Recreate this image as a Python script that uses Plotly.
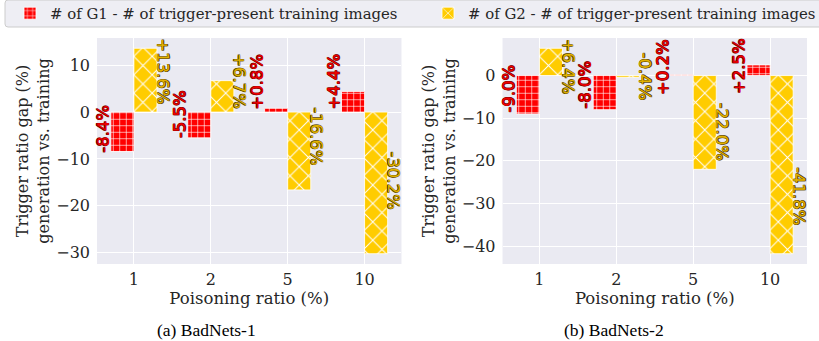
import plotly.graph_objects as go
from plotly.subplots import make_subplots

# Poisoning ratios (%) on the x axis
ratios = ["1", "2", "5", "10"]

# Trigger ratio gap (%) for each generator, per dataset
g1_badnets1 = [-8.4, -5.5, 0.8, 4.4]
g2_badnets1 = [13.6, 6.7, -16.6, -30.2]
g1_badnets2 = [-9.0, -8.0, 0.2, 2.5]
g2_badnets2 = [6.4, -0.4, -22.0, -41.8]

series_names = ["# of G1 - # of trigger-present training images",
                "# of G2 - # of trigger-present training images"]
captions = ["(a) BadNets-1", "(b) BadNets-2"]

# vertical centre (data units) of each rotated value label
label_mid_g1 = [[-3.5, -0.4, 6.5, 6.5], [-3.1, -2.2, 1.9, 2.1]]
label_mid_g2 = [[8.6, 6.5, -5.2, -14.6], [2.1, -0.2, -13.1, -28.2]]

RED = "#ff0000"
GOLD = "#ffcc00"
BG = "#eaeaf2"
TXT = "#262626"
SERIF = "DejaVu Serif"

W, H = 819, 341
ML, MR, MT, MB = 97, 12, 38, 77
plot_w = W - ML - MR
plot_h = H - MT - MB

fig = make_subplots(rows=1, cols=2, horizontal_spacing=0.1423)


def outline(c, d=0.5):
    return ", ".join(f"{sx * d}px {sy * d}px 0 {c}" for sx, sy in
                     ((1, 1), (-1, -1), (1, -1), (-1, 1)))


panels = [(g1_badnets1, g2_badnets1), (g1_badnets2, g2_badnets2)]
for col, (g1, g2) in enumerate(panels, start=1):
    fig.add_trace(go.Bar(
        x=ratios, y=g1, name=series_names[0], showlegend=(col == 1),
        legend="legend",
        marker=dict(color=RED, line=dict(color="white", width=0.8),
                    pattern=dict(shape="+", fgcolor="white", bgcolor=RED,
                                 fillmode="replace", size=6.5, solidity=0.18)),
        offsetgroup="g1",
    ), row=1, col=col)
    fig.add_trace(go.Bar(
        x=ratios, y=g2, name=series_names[1], showlegend=(col == 1),
        legend="legend2",
        marker=dict(color=GOLD, line=dict(color="white", width=0.8),
                    pattern=dict(shape="x", fgcolor="white", bgcolor=GOLD,
                                 fillmode="replace", size=13, solidity=0.15)),
        offsetgroup="g2",
    ), row=1, col=col)

    xa = "x" if col == 1 else "x2"
    ya = "y" if col == 1 else "y2"
    for i, v in enumerate(g1):
        fig.add_annotation(
            x=i - 0.3, y=label_mid_g1[col - 1][i], xref=xa, yref=ya,
            text=f"{v:+.1f}%", textangle=-90, showarrow=False,
            xanchor="right", yanchor="middle", xshift=4,
            font=dict(family="DejaVu Sans", size=16.5, color="#f00000",
                      shadow=outline("#7a0000", 0.45)),
        )
    for i, v in enumerate(g2):
        fig.add_annotation(
            x=i + 0.3, y=label_mid_g2[col - 1][i], xref=xa, yref=ya,
            text=f"{v:+.1f}%", textangle=90, showarrow=False,
            xanchor="left", yanchor="middle", xshift=-6,
            font=dict(family="DejaVu Sans", size=16.5, color="#e2b200",
                      shadow=outline("#5c4700", 0.45)),
        )

tick_font = dict(family=SERIF, size=16, color=TXT)
title_font = dict(family=SERIF, size=16.5, color=TXT)
for col in (1, 2):
    fig.update_xaxes(
        row=1, col=col, range=[-0.48, 3.48], showgrid=True, gridcolor="white",
        gridwidth=1, zeroline=False, showline=False, ticks="",
        tickfont=tick_font, ticklabelstandoff=4,
        title=dict(text="Poisoning ratio (%)", font=title_font, standoff=0),
    )
    fig.update_yaxes(
        row=1, col=col, showgrid=True, gridcolor="white", gridwidth=1,
        zeroline=True, zerolinecolor="white", zerolinewidth=1, showline=False,
        ticks="", tickfont=tick_font, ticklabelstandoff=6,
        title=dict(text="Trigger ratio gap (%)<br>generation vs. training",
                   font=dict(family=SERIF, size=16, color=TXT), standoff=2),
    )
fig.update_yaxes(row=1, col=1, range=[-32.39, 15.79], dtick=10)
fig.update_yaxes(row=1, col=2, range=[-44.21, 8.81], dtick=10)


def px_x(p):
    return (p - ML) / plot_w


def px_y(p):
    return (H - MB - p) / plot_h


# captions under each panel
for k, cx in enumerate((206, 614)):
    fig.add_annotation(
        x=px_x(cx), y=px_y(330), xref="paper", yref="paper", text=captions[k],
        showarrow=False, xanchor="center", yanchor="middle",
        font=dict(family="Liberation Serif", size=17.5, color="black"),
    )

# legend frame with rounded corners
x0, x1, y0, y1, r = 5, 832, 0, 27, 3
path = (f"M{px_x(x0 + r)},{px_y(y0)} L{px_x(x1 - r)},{px_y(y0)} "
        f"Q{px_x(x1)},{px_y(y0)} {px_x(x1)},{px_y(y0 + r)} "
        f"L{px_x(x1)},{px_y(y1 - r)} Q{px_x(x1)},{px_y(y1)} {px_x(x1 - r)},{px_y(y1)} "
        f"L{px_x(x0 + r)},{px_y(y1)} Q{px_x(x0)},{px_y(y1)} {px_x(x0)},{px_y(y1 - r)} "
        f"L{px_x(x0)},{px_y(y0 + r)} Q{px_x(x0)},{px_y(y0)} {px_x(x0 + r)},{px_y(y0)} Z")
fig.add_shape(type="path", path=path, xref="paper", yref="paper",
              fillcolor="#eeeef4", line=dict(color="#cccccc", width=1), layer="below")

legend_style = dict(orientation="h", xanchor="left", yanchor="middle",
                    xref="container", yref="container",
                    bgcolor="rgba(0,0,0,0)", borderwidth=0,
                    font=dict(family=SERIF, size=14.9, color=TXT))

fig.update_layout(
    width=W, height=H,
    margin=dict(l=ML, r=MR, t=MT, b=MB, pad=0, autoexpand=False),
    paper_bgcolor="white", plot_bgcolor=BG,
    barmode="group", bargap=0.4, bargroupgap=0,
    font=dict(family=SERIF, color=TXT),
    legend=dict(x=10 / W, y=1 - 13.5 / H, **legend_style),
    legend2=dict(x=428 / W, y=1 - 13.5 / H, **legend_style),
    showlegend=True,
)

fig.write_html("out.html")
